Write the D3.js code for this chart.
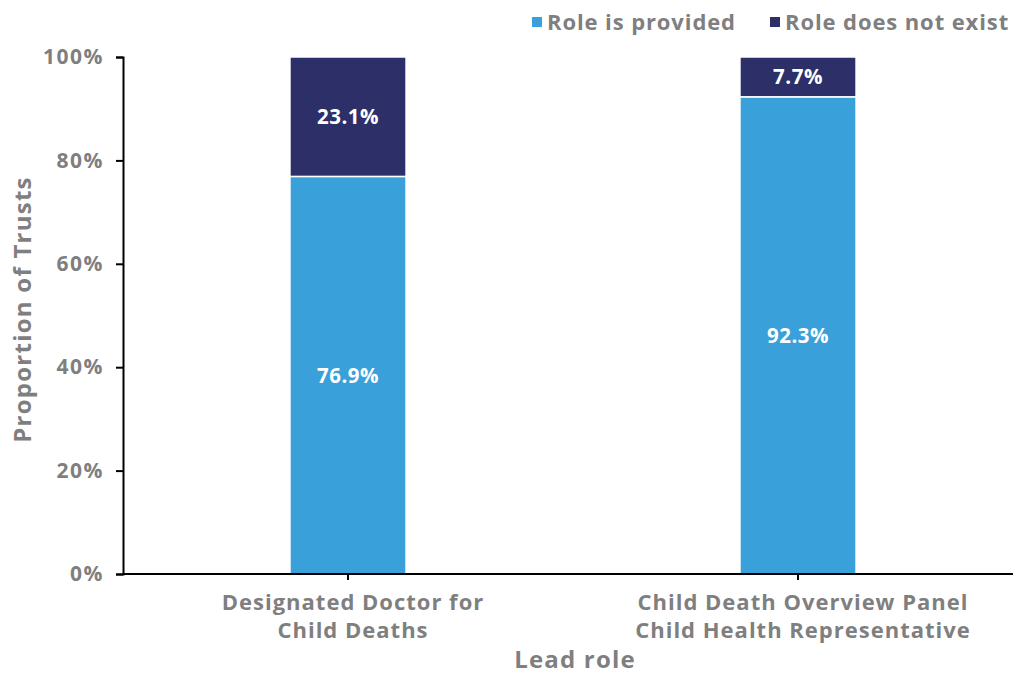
<!DOCTYPE html>
<html>
<head>
<meta charset="utf-8">
<script src="https://cdn.jsdelivr.net/npm/d3@7"></script>
<style>
  html, body { margin: 0; padding: 0; background: #fff; }
  svg { display: block; font-family: "Open Sans", "DejaVu Sans", sans-serif; font-weight: 700; }
</style>
</head>
<body>
<svg id="chart" width="1013" height="675"></svg>
<script>
// Lead roles (two-line labels) and shares of trusts, in percent
const categories = [
  ["Designated Doctor for", "Child Deaths"],
  ["Child Death Overview Panel", "Child Health Representative"]
];
const provided = [76.9, 92.3];
const notExist = [23.1, 7.7];
const seriesNames = ["Role is provided", "Role does not exist"];
const seriesColors = ["#3aa0da", "#2d3068"];
const yTicks = [0, 20, 40, 60, 80, 100];

const svg = d3.select("#chart");
const grey = "#7f7f7f";
const plotLeft = 123, plotRight = 1023, plotTop = 57, plotBottom = 574;

const keys = categories.map(c => c.join(" "));
const x = d3.scaleBand().domain(keys).range([plotLeft, plotRight]).padding(0);
const barW = x.bandwidth() * 0.258;
const y = d3.scaleLinear().domain([0, 100]).range([plotBottom, plotTop]);

// stacked rows
const rows = keys.map((k, i) => ({ key: k, provided: provided[i], notExist: notExist[i] }));
const stack = d3.stack().keys(["provided", "notExist"])(rows);

// bars and their value labels
stack.forEach((layer, li) => {
  svg.append("g").selectAll("rect").data(layer).join("rect")
    .attr("x", d => x(d.data.key) + x.bandwidth() / 2 - barW / 2)
    .attr("width", barW)
    .attr("y", d => y(d[1]))
    .attr("height", d => y(d[0]) - y(d[1]))
    .attr("fill", seriesColors[li])
    .attr("stroke", "#fff")
    .attr("stroke-width", 1.5);

  svg.append("g").selectAll("text").data(layer).join("text")
    .attr("x", d => x(d.data.key) + x.bandwidth() / 2)
    .attr("y", d => (y(d[0]) + y(d[1])) / 2)
    .attr("dy", "0.36em")
    .attr("text-anchor", "middle")
    .attr("fill", "#fff")
    .attr("font-size", 20.5)
    .attr("letter-spacing", 0.5)
    .text(d => (d[1] - d[0]).toFixed(1) + "%");
});

// y axis
const yAxis = svg.append("g")
  .attr("transform", `translate(${plotLeft},0)`)
  .call(d3.axisLeft(y).tickValues(yTicks).tickFormat(d => d + "%").tickSize(7).tickPadding(12));
yAxis.select(".domain").attr("stroke", "#000").attr("stroke-width", 2);
yAxis.selectAll(".tick line").attr("stroke", "#000").attr("stroke-width", 2);
yAxis.selectAll(".tick text").attr("fill", grey).attr("font-size", 21)
  .attr("letter-spacing", 1.5)
  .attr("font-family", "'Open Sans', sans-serif").attr("font-weight", 700);

// x axis
const xAxis = svg.append("g")
  .attr("transform", `translate(0,${plotBottom})`)
  .call(d3.axisBottom(x).tickSize(6).tickFormat(""));
xAxis.select(".domain").attr("stroke", "#000").attr("stroke-width", 2).attr("d", `M${plotLeft},0H${plotRight}`);
xAxis.selectAll(".tick line").attr("stroke", "#000").attr("stroke-width", 2);

// category labels
categories.forEach((lines, i) => {
  const cx = x(keys[i]) + x.bandwidth() / 2 + 5;
  const t = svg.append("text")
    .attr("x", cx)
    .attr("y", 610)
    .attr("text-anchor", "middle")
    .attr("fill", grey)
    .attr("font-size", 22)
    .attr("letter-spacing", 1);
  lines.forEach((ln, j) => t.append("tspan")
    .attr("x", cx)
    .attr("dy", j === 0 ? 0 : 28)
    .text(ln));
});

// axis titles
svg.append("text")
  .attr("x", (plotLeft + plotRight) / 2 + 2).attr("y", 668)
  .attr("text-anchor", "middle").attr("fill", grey).attr("font-size", 24)
  .attr("letter-spacing", 1.2)
  .text("Lead role");
svg.append("text")
  .attr("transform", `translate(31,${(plotTop + plotBottom) / 2 - 6}) rotate(-90)`)
  .attr("text-anchor", "middle").attr("fill", grey).attr("font-size", 24)
  .attr("letter-spacing", 1.25)
  .text("Proportion of Trusts");

// legend
const legendX = [532, 770];
seriesNames.forEach((name, i) => {
  const g = svg.append("g").attr("transform", `translate(${legendX[i]},22)`);
  g.append("rect").attr("x", 0).attr("y", -5).attr("width", 10).attr("height", 10).attr("fill", seriesColors[i]);
  g.append("text").attr("x", 15).attr("y", 0).attr("dy", "0.36em")
    .attr("fill", grey).attr("font-size", 22).attr("letter-spacing", 0.9).text(name);
});
</script>
</body>
</html>
